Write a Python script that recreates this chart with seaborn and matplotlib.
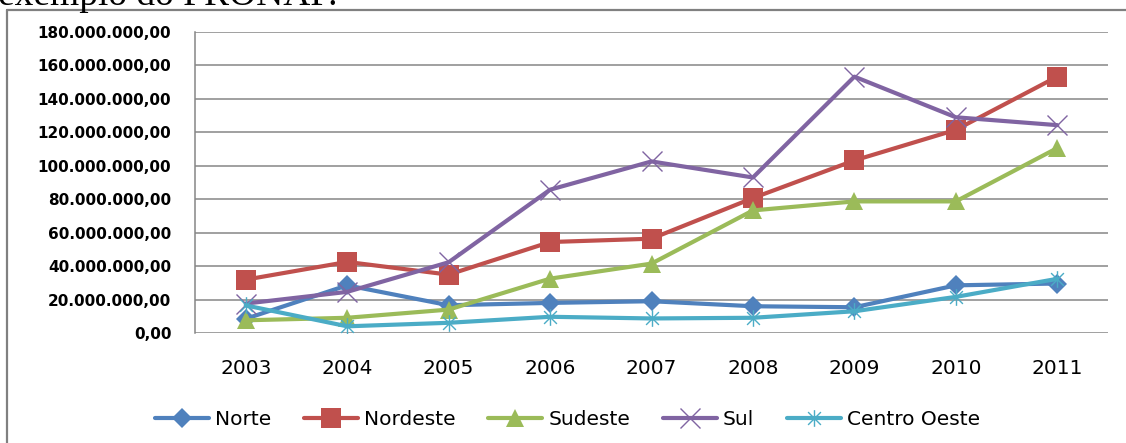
import numpy as np
import pandas as pd
import matplotlib
matplotlib.use("Agg")
import matplotlib.pyplot as plt
from matplotlib.path import Path
from matplotlib.lines import Line2D
from matplotlib.ticker import FuncFormatter
import seaborn as sns

# ---- data (values in millions of R$) ----
years = [2003, 2004, 2005, 2006, 2007, 2008, 2009, 2010, 2011]
norte = [8.5, 28.5, 16.6, 18.0, 19.0, 16.0, 15.4, 28.5, 29.6]
nordeste = [31.9, 42.5, 34.9, 54.4, 56.4, 80.7, 103.2, 121.5, 153.3]
sudeste = [7.6, 9.1, 14.0, 32.5, 41.5, 73.3, 78.7, 78.7, 110.6]
sul = [17.6, 24.6, 42.3, 85.7, 102.6, 93.0, 153.3, 129.0, 124.3]
centro_oeste = [16.5, 4.0, 6.1, 9.7, 8.7, 9.1, 13.0, 21.6, 32.4]
series_names = ["Norte", "Nordeste", "Sudeste", "Sul", "Centro Oeste"]
yticks = [0, 20, 40, 60, 80, 100, 120, 140, 160, 180]

sns.set_style("white")
plt.rcParams["font.family"] = ["DejaVu Sans"]
plt.rcParams["text.color"] = "black"
plt.rcParams["xtick.color"] = "black"
plt.rcParams["ytick.color"] = "black"

df = pd.DataFrame({
    "ano": years * 5,
    "valor": [v * 1e6 for s in [norte, nordeste, sudeste, sul, centro_oeste] for v in s],
    "regiao": [n for n in series_names for _ in years],
})

colors = {"Norte": "#4F81BD", "Nordeste": "#C0504D", "Sudeste": "#9BBB59",
          "Sul": "#8064A2", "Centro Oeste": "#4BACC6"}

star = Path([(-1, -1), (1, 1), (-1, 1), (1, -1), (0, -1.3), (0, 1.3)],
            [Path.MOVETO, Path.LINETO, Path.MOVETO, Path.LINETO, Path.MOVETO, Path.LINETO])

marker_kw = {
    "Norte": dict(marker="D", markersize=10.5, markeredgewidth=0),
    "Nordeste": dict(marker="s", markersize=14, markeredgewidth=0),
    "Sudeste": dict(marker="^", markersize=13, markeredgewidth=0),
    "Sul": dict(marker="x", markersize=14, markeredgewidth=1.0),
    "Centro Oeste": dict(marker=star, markersize=12, markeredgewidth=1.0,
                         markerfacecolor="none"),
}

fig = plt.figure(figsize=(11.26, 4.43), dpi=100)
ax = fig.add_axes([195 / 1126, 1 - 333 / 443, (1108 - 195) / 1126, (333 - 32) / 443])

for name in series_names:
    sub = df[df["regiao"] == name]
    kw = dict(marker_kw[name])
    if name in ("Sul", "Centro Oeste"):
        kw["markeredgecolor"] = colors[name]
    sns.lineplot(data=sub, x="ano", y="valor", ax=ax, color=colors[name],
                 linewidth=3.0, label=name, legend=False, **kw)

ax.set_xlim(2002.5, 2011.5)
ax.set_ylim(0, 180e6)
ax.set_xticks(years)
ax.set_xticklabels([str(y) for y in years])
ax.set_yticks([v * 1e6 for v in yticks])

def br_fmt(v, pos):
    s = f"{v:,.2f}"
    return s.replace(",", "X").replace(".", ",").replace("X", ".")

ax.yaxis.set_major_formatter(FuncFormatter(br_fmt))
ax.set_xlabel("")
ax.set_ylabel("")
ax.grid(axis="y", color="#868686", linewidth=1.1)
ax.grid(axis="x", visible=False)
ax.set_axisbelow(True)
for s in ["top", "right", "bottom"]:
    ax.spines[s].set_visible(False)
ax.spines["left"].set_color("#868686")
ax.spines["left"].set_linewidth(1.1)
ax.tick_params(axis="y", length=0, pad=17, labelsize=11, labelcolor="black")
ax.tick_params(axis="x", length=0, pad=19, labelsize=14.5, labelcolor="black")
for lab in ax.get_yticklabels():
    lab.set_fontweight("bold")

handles, labels = ax.get_legend_handles_labels()
leg = fig.legend(handles, labels, loc="center", bbox_to_anchor=(0.504, 0.054), ncol=5,
                 frameon=False, fontsize=14.5, handlelength=2.7, handletextpad=0.3,
                 columnspacing=1.6)
for t in leg.get_texts():
    t.set_color("black")

# surrounding frame of the document figure
fig.add_artist(Line2D([7 / 1126, 7 / 1126], [0, 1 - 10 / 443], transform=fig.transFigure,
                      color="#808080", linewidth=1.6))
fig.add_artist(Line2D([7 / 1126, 1], [1 - 10 / 443, 1 - 10 / 443], transform=fig.transFigure,
                      color="#808080", linewidth=1.6))

fig.text(-0.002, 1 - 5 / 443, "exemplo do PRONAF.", family="Liberation Serif",
         fontsize=27, va="baseline", ha="left", color="black")

fig.savefig("out.png", dpi=100)
